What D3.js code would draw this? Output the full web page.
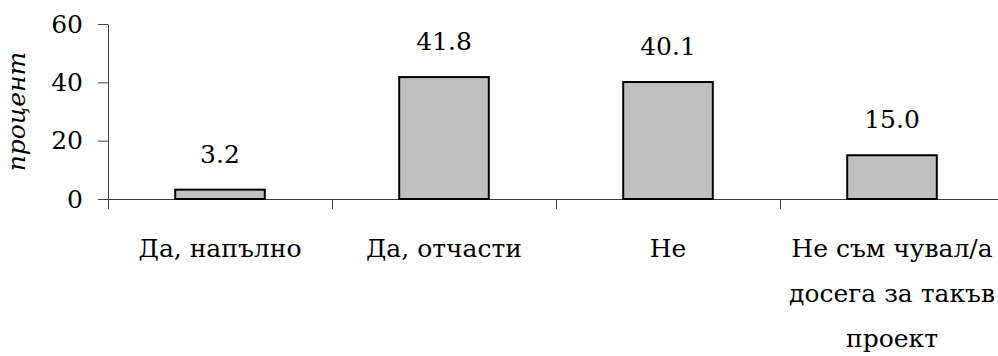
<!DOCTYPE html>
<html>
<head>
<meta charset="utf-8">
<script src="https://cdn.jsdelivr.net/npm/d3@7"></script>
<style>
  body { margin: 0; background: #fff; }
  svg { display: block; }
  svg text { font-family: "DejaVu Serif", "Liberation Serif", serif; font-size: 25px; fill: #000; }
  .axis path, .axis line { stroke: #404040; }
</style>
</head>
<body>
<svg id="chart" width="998" height="356"></svg>
<script>
const categories = ["Да, напълно", "Да, отчасти", "Не", "Не съм чувал/а досега за такъв проект"];
const categoryLines = [["Да, напълно"], ["Да, отчасти"], ["Не"], ["Не съм чувал/а", "досега за такъв", "проект"]];
const values = [3.2, 41.8, 40.1, 15.0];
const yTicks = [0, 20, 40, 60];
const yTitle = "процент";

const margin = { left: 108, top: 24, bottom: 157 };
const svg = d3.select("#chart");
const height = 356 - margin.top - margin.bottom;
const step = 224;

const chart = svg.append("g")
  .attr("transform", "translate(" + margin.left + "," + margin.top + ")");

const xScale = d3.scaleBand()
  .domain(categories)
  .range([0, step * categories.length])
  .paddingInner(0.6)
  .paddingOuter(0.3);

const yScale = d3.scaleLinear()
  .domain([0, 60])
  .range([height, 0]);

// boundaries between categories, for the x axis ticks
const edgeScale = d3.scaleLinear()
  .domain([0, categories.length])
  .range([0, step * categories.length]);

chart.append("g")
  .attr("class", "axis")
  .attr("transform", "translate(0," + height + ")")
  .call(d3.axisBottom(edgeScale)
    .tickValues(d3.range(categories.length))
    .tickFormat("")
    .tickSize(10)
    .tickSizeOuter(0));

chart.append("g")
  .attr("class", "axis")
  .call(d3.axisLeft(yScale)
    .tickValues(yTicks)
    .tickSize(10)
    .tickSizeOuter(0)
    .tickPadding(15));

chart.selectAll(".bar")
  .data(values)
  .join("rect")
  .attr("class", "bar")
  .attr("x", (d, i) => xScale(categories[i]))
  .attr("y", d => yScale(d))
  .attr("width", xScale.bandwidth())
  .attr("height", d => height - yScale(d))
  .attr("fill", "#c0c0c0")
  .attr("stroke", "#000")
  .attr("stroke-width", 2);

chart.selectAll(".value")
  .data(values)
  .join("text")
  .attr("class", "value")
  .attr("x", (d, i) => xScale(categories[i]) + xScale.bandwidth() / 2)
  .attr("y", d => yScale(d) - 27)
  .attr("text-anchor", "middle")
  .text(d => d.toFixed(1));

const labels = chart.selectAll(".cat")
  .data(categoryLines)
  .join("text")
  .attr("class", "cat")
  .attr("text-anchor", "middle")
  .attr("transform", (d, i) => "translate(" + (xScale(categories[i]) + xScale.bandwidth() / 2) + "," + (height + 58) + ")");

labels.selectAll("tspan")
  .data(d => d)
  .join("tspan")
  .attr("x", 0)
  .attr("y", (d, i) => i * 45)
  .text(d => d);

svg.append("text")
  .attr("transform", "translate(25," + (margin.top + height / 2) + ") rotate(-90)")
  .attr("text-anchor", "middle")
  .style("font-style", "italic")
  .text(yTitle);
</script>
</body>
</html>
